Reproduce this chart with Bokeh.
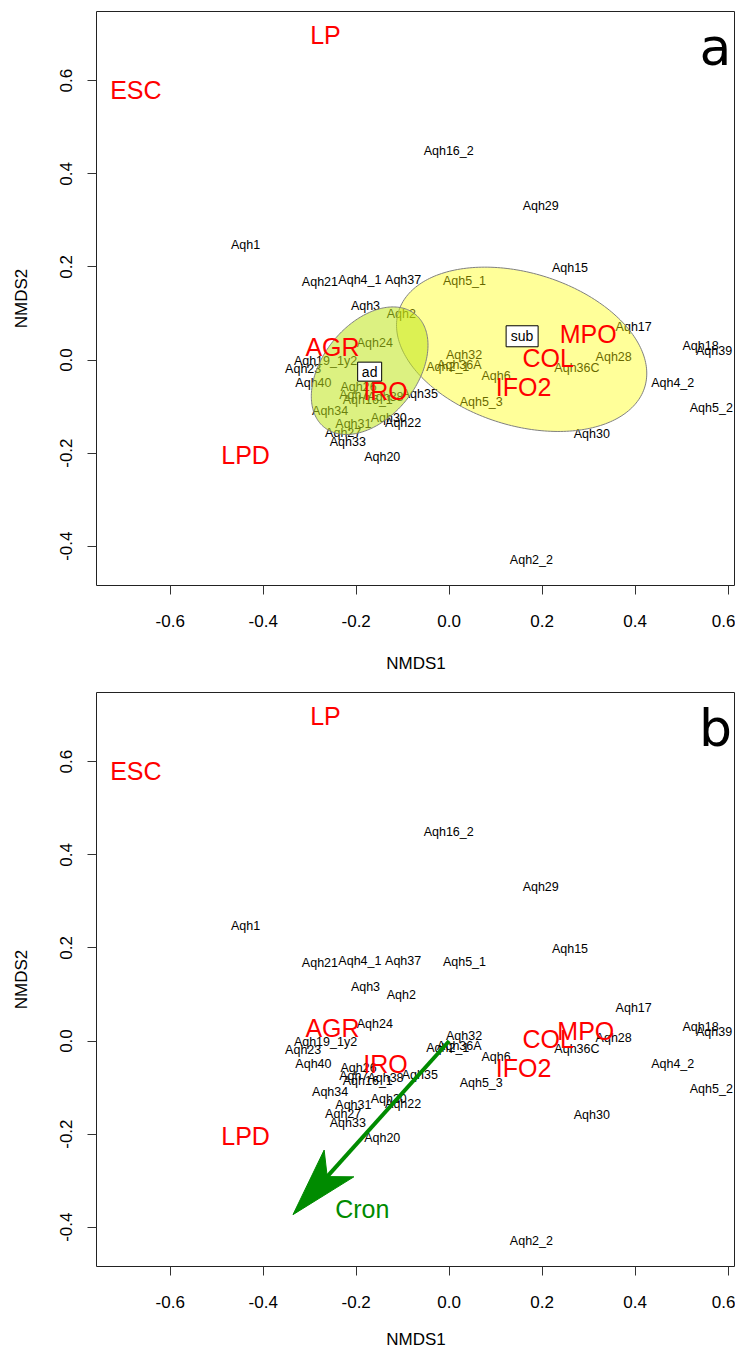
import numpy as np
from bokeh.plotting import figure
from bokeh.layouts import column
from bokeh.models import Range1d, FixedTicker, ColumnDataSource, CustomJSTickFormatter
from bokeh.core.properties import value
from bokeh.embed import file_html
from bokeh.resources import INLINE

# ---------------- data ----------------
site_names = ["Aqh16_2", "Aqh29", "Aqh1", "Aqh15", "Aqh21", "Aqh4_1", "Aqh37", "Aqh5_1",
              "Aqh3", "Aqh2", "Aqh17", "Aqh24", "Aqh18", "Aqh39", "Aqh19_1y2", "Aqh32",
              "Aqh28", "Aqh2_1", "Aqh36A", "Aqh36C", "Aqh23", "Aqh6", "Aqh40", "Aqh4_2",
              "Aqh26", "Aqh35", "Aqh7", "Aqh38", "Aqh16_1", "Aqh5_3", "Aqh5_2", "Aqh34",
              "Aqh30", "Aqh22", "Aqh31", "Aqh27", "Aqh30", "Aqh33", "Aqh20", "Aqh2_2"]
site_x = [-0.001, 0.197, -0.438, 0.260, -0.278, -0.192, -0.099, 0.033,
          -0.180, -0.103, 0.397, -0.160, 0.541, 0.570, -0.266, 0.032,
          0.354, -0.003, 0.022, 0.275, -0.314, 0.101, -0.292, 0.481,
          -0.195, -0.063, -0.205, -0.137, -0.175, 0.069, 0.564, -0.256,
          -0.130, -0.099, -0.206, -0.228, 0.307, -0.218, -0.144, 0.177]
site_y = [0.448, 0.330, 0.248, 0.198, 0.167, 0.171, 0.171, 0.170,
          0.115, 0.098, 0.071, 0.036, 0.031, 0.019, -0.003, 0.010,
          0.007, -0.014, -0.010, -0.017, -0.019, -0.034, -0.050, -0.049,
          -0.059, -0.074, -0.076, -0.079, -0.085, -0.091, -0.103, -0.110,
          -0.124, -0.136, -0.137, -0.157, -0.159, -0.177, -0.208, -0.429]

group_names = ["LP", "ESC", "LPD", "AGR", "IRO", "MPO", "COL", "IFO2"]
group_x_a = [-0.266, -0.674, -0.438, -0.251, -0.137, 0.299, 0.213, 0.160]
group_y_a = [0.698, 0.580, -0.203, 0.029, -0.066, 0.055, 0.005, -0.057]
group_x_b = [-0.266, -0.674, -0.438, -0.251, -0.137, 0.294, 0.213, 0.160]
group_y_b = [0.698, 0.580, -0.203, 0.029, -0.049, 0.021, 0.005, -0.057]

ellipse_names = ["sub", "ad"]
ellipse_cx = [0.156, -0.171]
ellipse_cy = [0.023, -0.023]
ellipse_major = [0.277, 0.156]
ellipse_minor = [0.164, 0.101]
ellipse_angle = [-17.0, 51.2]
ellipse_label_x = [0.157, -0.171]
ellipse_label_y = [0.051, -0.025]
ellipse_fill = ["#FFFF00", "#BFE61A"]
ellipse_alpha = [0.40, 0.55]

vector_names = ["Cron"]
vector_x = [-0.336]
vector_y = [-0.373]
vector_label_x = [-0.187]
vector_label_y = [-0.361]

x_ticks = [-0.6, -0.4, -0.2, 0.0, 0.2, 0.4, 0.6]
y_ticks = [-0.4, -0.2, 0.0, 0.2, 0.4, 0.6]

FONT = "Liberation Sans"


def make_panel(letter, gx, gy, ellipses, vector, height, border_top, border_bottom,
               xlabel_standoff):
    p = figure(width=735, height=height, frame_width=639, frame_height=574,
               x_range=Range1d(-0.7587, 0.6161), y_range=Range1d(-0.4844, 0.7487),
               min_border_left=96, min_border_right=0, min_border_top=border_top,
               min_border_bottom=border_bottom,
               output_backend="svg", toolbar_location=None)
    p.xgrid.visible = False
    p.ygrid.visible = False
    p.outline_line_color = "#222222"
    p.outline_line_width = 1
    p.background_fill_color = "white"
    p.border_fill_color = "white"

    fmt = CustomJSTickFormatter(code="return tick.toFixed(1);")
    p.xaxis.ticker = FixedTicker(ticks=x_ticks)
    p.yaxis.ticker = FixedTicker(ticks=y_ticks)
    p.xaxis.formatter = fmt
    p.yaxis.formatter = fmt
    p.xaxis.axis_label = "NMDS1"
    p.yaxis.axis_label = "NMDS2"
    for ax in (p.xaxis[0], p.yaxis[0]):
        ax.axis_line_color = None
        ax.major_tick_line_color = "#333333"
        ax.major_tick_out = 9
        ax.major_tick_in = 0
        ax.minor_tick_out = 0
        ax.minor_tick_in = 0
        ax.major_label_text_font = FONT
        ax.major_label_text_font_size = "17px"
        ax.major_label_text_color = "black"
        ax.axis_label_text_font = FONT
        ax.axis_label_text_font_size = "17px"
        ax.axis_label_text_font_style = "normal"
        ax.axis_label_text_color = "black"
    p.xaxis.major_label_standoff = 20
    p.xaxis.axis_label_standoff = xlabel_standoff
    p.yaxis.major_label_orientation = "parallel"
    p.yaxis.major_label_standoff = 15
    p.yaxis.axis_label_standoff = 27

    # sample labels
    src = ColumnDataSource(dict(x=site_x, y=site_y, t=site_names))
    p.text(x="x", y="y", text="t", source=src, text_font=value(FONT),
           text_font_size="12.5px", text_color="black",
           text_align="center", text_baseline="middle")

    if ellipses:
        tt = np.linspace(0, 2 * np.pi, 240)
        for cx, cy, a, b, ang, col, al in zip(ellipse_cx, ellipse_cy, ellipse_major,
                                              ellipse_minor, ellipse_angle, ellipse_fill,
                                              ellipse_alpha):
            th = np.deg2rad(ang)
            ex = cx + a * np.cos(tt) * np.cos(th) - b * np.sin(tt) * np.sin(th)
            ey = cy + a * np.cos(tt) * np.sin(th) + b * np.sin(tt) * np.cos(th)
            p.patch(ex, ey, fill_color=col, fill_alpha=al,
                    line_color="#808080", line_width=1)

    if vector:
        for vx, vy in zip(vector_x, vector_y):
            L = np.hypot(vx, vy)
            ux, uy = vx / L, vy / L
            px_, py_ = -uy, ux
            head_len, head_half, notch = 0.148, 0.043, 0.110
            bx, by = vx - ux * head_len, vy - uy * head_len
            nx, ny = vx - ux * notch, vy - uy * notch
            p.line([0, nx], [0, ny], line_color="#008B00", line_width=4)
            p.patch([vx, bx + px_ * head_half, nx, bx - px_ * head_half],
                    [vy, by + py_ * head_half, ny, by - py_ * head_half],
                    fill_color="#008B00", line_color="#008B00", line_width=1)
        vsrc = ColumnDataSource(dict(x=vector_label_x, y=vector_label_y, t=vector_names))
        p.text(x="x", y="y", text="t", source=vsrc, text_font=value(FONT),
               text_font_size="25px", text_color="#008B00",
               text_align="center", text_baseline="middle")

    gsrc = ColumnDataSource(dict(x=gx, y=gy, t=group_names))
    p.text(x="x", y="y", text="t", source=gsrc, text_font=value(FONT),
           text_font_size="25px", text_color="#FF0000",
           text_align="center", text_baseline="middle")

    if ellipses:
        lsrc = ColumnDataSource(dict(x=ellipse_label_x, y=ellipse_label_y,
                                     t=ellipse_names, w=[32, 24], h=[21, 19]))
        p.rect(x="x", y="y", width="w", height="h", width_units="screen",
               height_units="screen", source=lsrc, fill_color="white",
               line_color="black", line_width=1)
        p.text(x="x", y="y", text="t", source=lsrc, text_font=value(FONT),
               text_font_size="14px", text_color="black",
               text_align="center", text_baseline="middle")

    p.text(x=[0.573], y=[0.672], text=[letter], text_font=value("DejaVu Sans"),
           text_font_size="52px", text_color="black",
           text_align="center", text_baseline="middle")
    return p


pa = make_panel("a", group_x_a, group_y_a, True, False, 689, 11, 104, 24)
pb = make_panel("b", group_x_b, group_y_b, False, True, 664, 3, 87, 19)

layout = column(pa, pb, spacing=0)
open("out.html", "w").write(file_html(layout, INLINE))
